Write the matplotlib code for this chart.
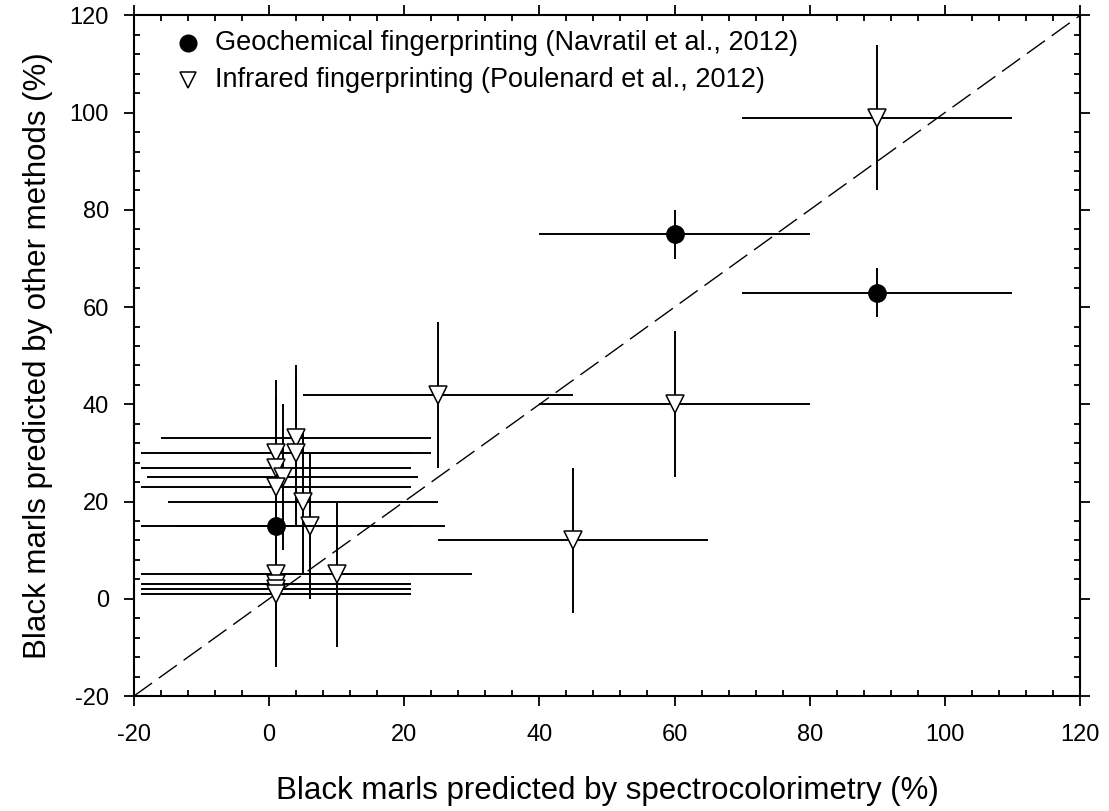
import numpy as np
import matplotlib.pyplot as plt
from matplotlib.ticker import MultipleLocator

plt.rcParams['font.family'] = ['Liberation Sans', 'DejaVu Sans']
plt.rcParams['axes.unicode_minus'] = False

# geochemical fingerprinting (filled circles)
geo_x = [1, 60, 90]
geo_y = [15, 75, 63]
geo_xerr = [20, 20, 20]
geo_yerr = [5, 5, 5]

# infrared fingerprinting (open triangles)
ir_x = [90, 60, 45, 25, 4, 1, 4, 1, 2, 1, 5, 6, 1, 10, 1, 1, 1]
ir_y = [99, 40, 12, 42, 33, 30, 30, 27, 25, 23, 20, 15, 5, 5, 3, 2, 1]
ir_xerr = [20] * len(ir_x)
ir_yerr = [15] * len(ir_x)

legend_labels = ['Geochemical fingerprinting (Navratil et al., 2012)',
                 'Infrared fingerprinting (Poulenard et al., 2012)']

fig = plt.figure(figsize=(11.09, 8.11), dpi=100)
ax = fig.add_axes([0.1208, 0.1418, 0.853, 0.8391])

# 1:1 line
ax.plot([-20, 120], [-20, 120], color='black', lw=1, dashes=(16, 6))

ax.errorbar(ir_x, ir_y, xerr=ir_xerr, yerr=ir_yerr, fmt='v', ms=12.5,
            mfc='white', mec='black', mew=1.1, ecolor='black', elinewidth=1.4,
            capsize=0, zorder=3)
ax.errorbar(geo_x, geo_y, xerr=geo_xerr, yerr=geo_yerr, fmt='o', ms=12.5,
            mfc='black', mec='black', ecolor='black', elinewidth=1.4,
            capsize=0, zorder=4)

ax.set_xlim(-20, 120)
ax.set_ylim(-20, 120)
ax.xaxis.set_major_locator(MultipleLocator(20))
ax.yaxis.set_major_locator(MultipleLocator(20))
ax.xaxis.set_minor_locator(MultipleLocator(4))
ax.yaxis.set_minor_locator(MultipleLocator(4))
ax.tick_params(which='major', direction='out', length=7, width=1.3,
               top=True, right=True, labelsize=17)
ax.tick_params(axis='x', which='major', pad=13)
ax.tick_params(axis='y', which='major', pad=11)
ax.tick_params(which='minor', direction='in', length=4, width=1.3,
               top=True, right=True)
for s in ax.spines.values():
    s.set_linewidth(1.5)

ax.set_xlabel('Black marls predicted by spectrocolorimetry (%)', fontsize=22.5, labelpad=22)
ax.set_ylabel('Black marls predicted by other methods (%)', fontsize=22.5, labelpad=12)

# legend drawn by hand
ax.plot([0.0571], [0.960], 'o', ms=12, mfc='black', mec='black',
        transform=ax.transAxes, clip_on=False)
ax.plot([0.0571], [0.9052], 'v', ms=11, mfc='white', mec='black', mew=1.1,
        transform=ax.transAxes, clip_on=False)
ax.text(0.0855, 0.960, legend_labels[0], fontsize=19.5, va='center',
        transform=ax.transAxes)
ax.text(0.0855, 0.9052, legend_labels[1], fontsize=19.5, va='center',
        transform=ax.transAxes)

fig.savefig('out.png', dpi=100)
